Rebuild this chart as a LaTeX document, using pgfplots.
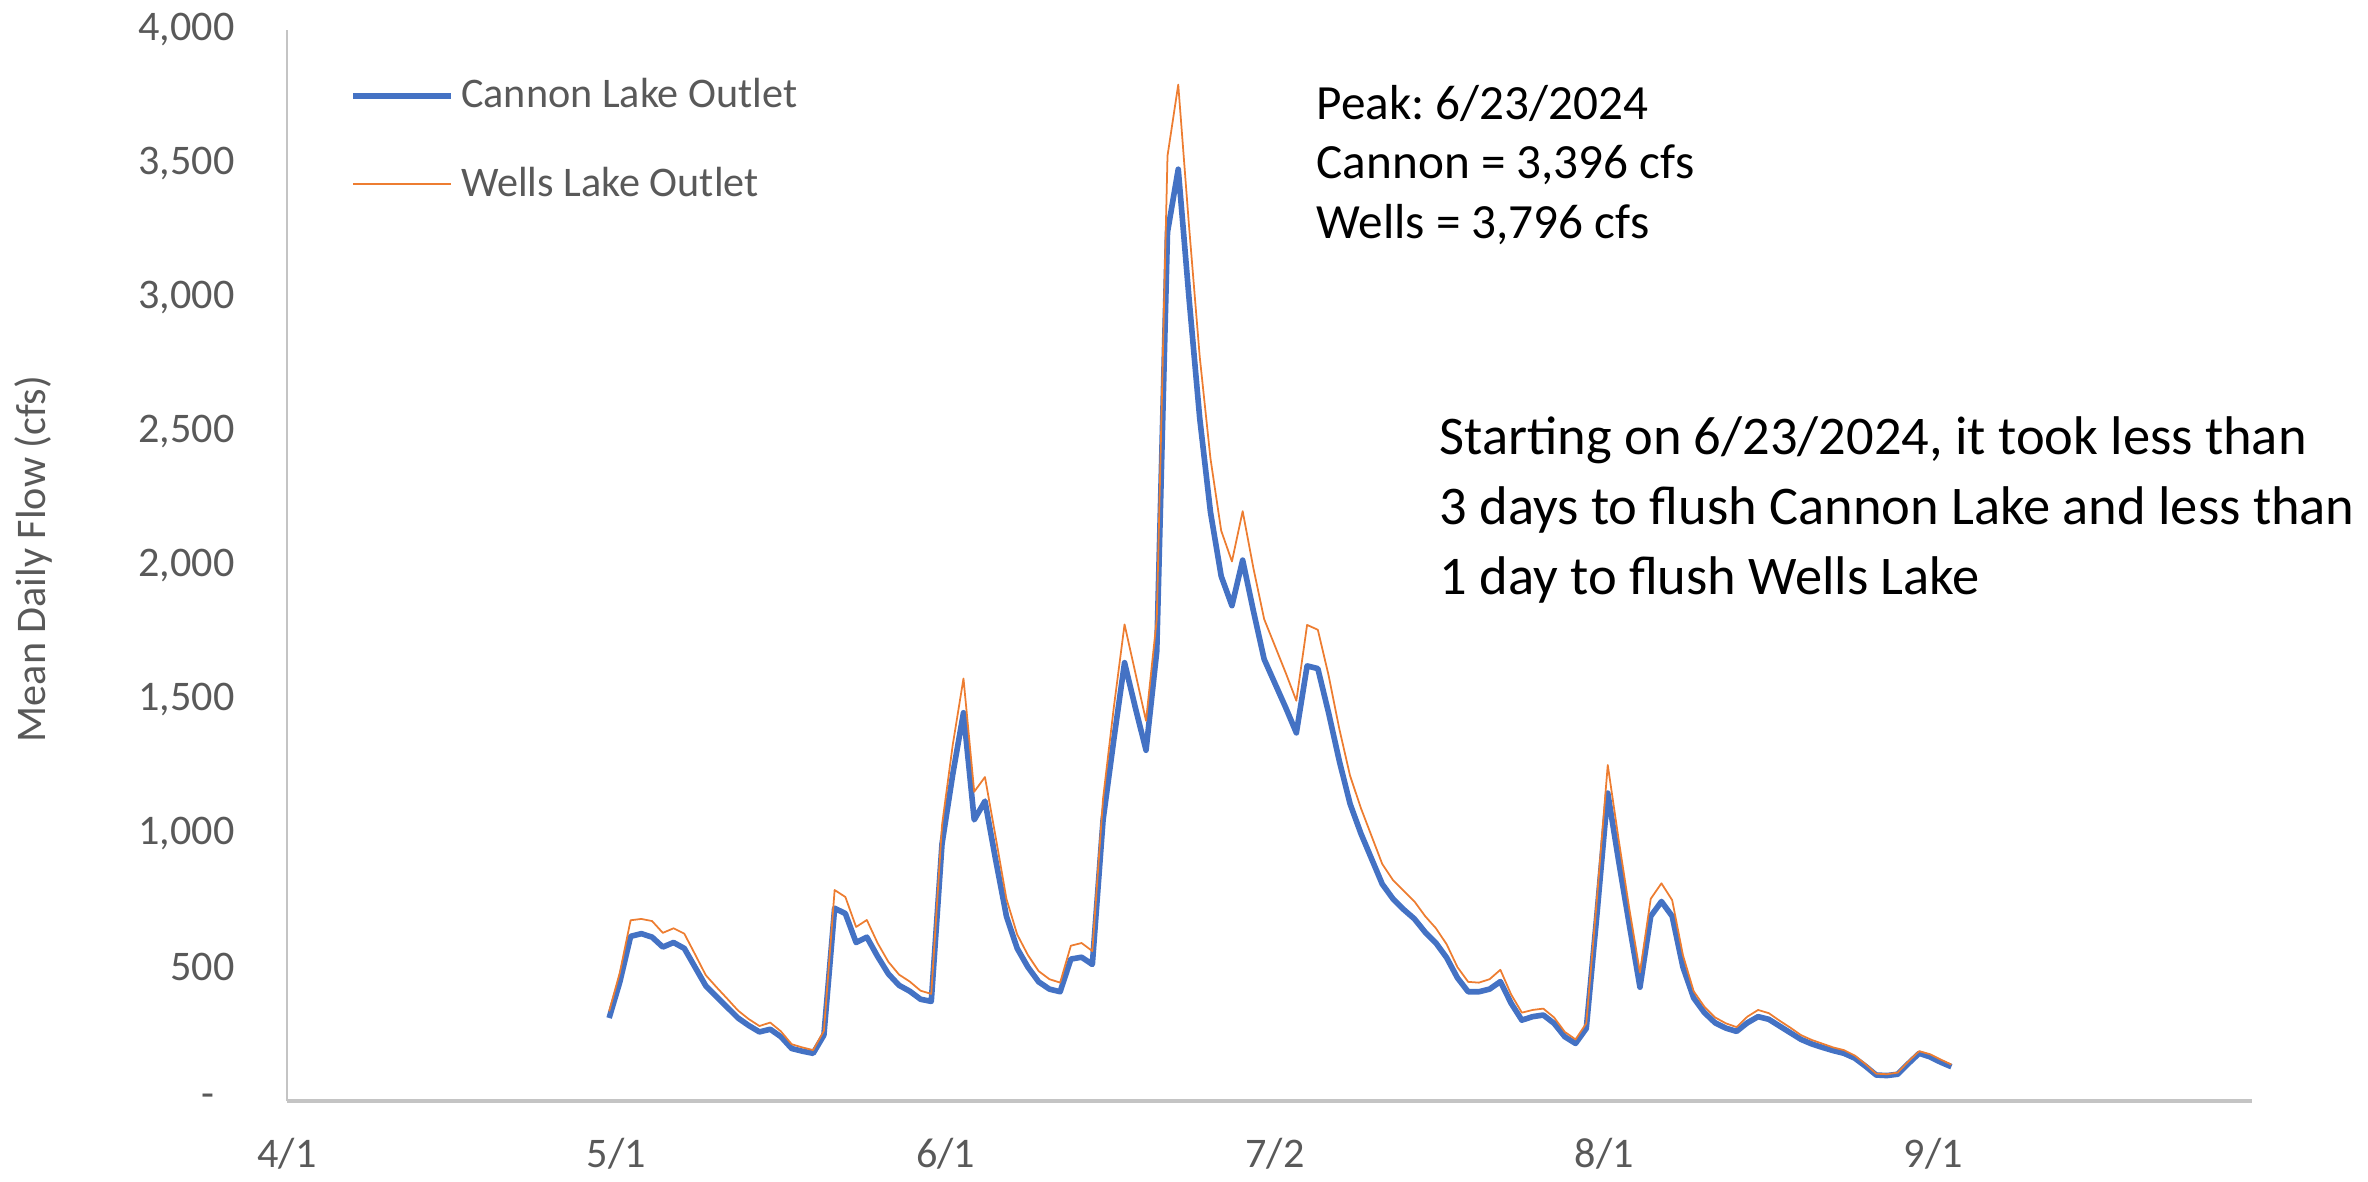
\documentclass[border=0pt]{standalone}
\usepackage{fontspec}
\setmainfont{Carlito}
\usepackage{pgfplots}
\usepackage{pgfplotstable}
\pgfplotsset{compat=1.18}
\frenchspacing
\definecolor{cblue}{HTML}{4472C4}
\definecolor{corange}{HTML}{ED7D31}
\definecolor{tgray}{HTML}{595959}
\definecolor{agray}{HTML}{C4C4C4}
\pgfplotstableread{
d C W
30 310 335
31 445 480
32 615 675
33 625 680
34 612 672
35 575 628
36 592 645
37 570 625
38 500 548
39 430 470
40 390 425
41 350 382
42 310 338
43 282 306
44 258 280
45 268 293
46 240 260
47 196 212
48 186 200
49 178 190
50 246 262
51 720 788
52 700 762
53 592 650
54 612 676
55 540 590
56 475 520
57 432 472
58 410 446
59 380 412
60 372 400
61 960 1030
62 1220 1330
63 1450 1578
64 1050 1155
65 1120 1210
66 900 985
67 690 755
68 570 622
69 500 545
70 445 485
71 418 455
72 408 442
73 530 580
74 537 590
75 510 560
76 1050 1130
77 1350 1470
78 1637 1780
79 1470 1600
80 1310 1420
81 1680 1800
82 3245 3530
83 3480 3796
84 3000 3270
85 2550 2780
86 2200 2400
87 1960 2130
88 1850 2015
89 2020 2203
90 1830 1990
91 1650 1800
92 1560 1700
93 1470 1600
94 1375 1495
95 1625 1778
96 1615 1760
97 1450 1590
98 1270 1390
99 1110 1215
100 1000 1095
101 905 990
102 810 885
103 755 825
104 715 785
105 680 745
106 630 690
107 590 645
108 535 585
109 460 500
110 408 445
111 408 442
112 418 455
113 446 490
114 365 398
115 302 330
116 315 340
117 321 345
118 290 312
119 240 258
120 215 230
121 271 290
122 700 760
123 1150 1255
124 900 980
125 660 720
126 425 480
127 690 755
128 745 813
129 690 750
130 500 545
131 385 410
132 330 352
133 292 312
134 272 290
135 260 276
136 292 315
137 315 340
138 305 328
139 280 300
140 255 274
141 230 246
142 213 228
143 200 214
144 188 200
145 178 190
146 160 170
147 130 138
148 97 102
149 95 100
150 100 106
151 140 148
152 178 186
153 165 175
154 145 155
155 128 136
}\flow

\begin{document}
\begin{tikzpicture}
\path[use as bounding box] (0,0) rectangle (23.68cm,11.81cm);
\begin{axis}[
  at={(2.87cm,0.80cm)}, anchor=south west,
  scale only axis, width=19.65cm, height=10.71cm,
  xmin=0, xmax=183, ymin=0, ymax=4000,
  axis lines*=left,
  x axis line style={draw=agray, line width=1.2pt},
  y axis line style={draw=agray, line width=0.6pt},
  major tick length=0pt,
  xtick={0,30.667,61.333,92,122.667,153.333},
  xticklabels={4/1,5/1,6/1,7/2,8/1,9/1},
  ytick={0,500,1000,1500,2000,2500,3000,3500,4000},
  yticklabels={{-\hspace*{2mm}},500,{1,000},{1,500},{2,000},{2,500},{3,000},{3,500},{4,000}},
  tick label style={font=\fontsize{12}{14}\selectfont, text=tgray},
  yticklabel style={xshift=-4mm},
  xticklabel style={yshift=-2.5mm},
  ylabel={Mean Daily Flow (cfs)},
  every axis y label/.style={at={(axis description cs:-0.129,0.506)}, rotate=90, anchor=center, font=\fontsize{12}{14}\selectfont, text=tgray},
  legend style={at={(axis description cs:0.032,0.962)}, anchor=north west, draw=none, fill=none, font=\fontsize{12}{14}\selectfont, text=tgray, row sep=4mm, inner sep=0pt},
  legend cell align=left,
  legend image code/.code={\draw[#1] (0cm,0cm) -- (0.98cm,0cm);},
]
\addplot[cblue, line width=1.6pt, line join=round] table[x=d,y=C]{\flow};
\addlegendentry{Cannon Lake Outlet}
\addplot[corange, line width=0.5pt, line join=round] table[x=d,y=W]{\flow};
\addlegendentry{Wells Lake Outlet}
\end{axis}
\begin{scope}[every node/.style={anchor=base west, inner sep=0pt, text=black}]
\node[font=\fontsize{14}{17}\selectfont] at (13.16cm,10.61cm) {Peak: 6/23/2024};
\node[font=\fontsize{14}{17}\selectfont] at (13.16cm,10.02cm) {Cannon = 3,396 cfs};
\node[font=\fontsize{14}{17}\selectfont] at (13.16cm,9.42cm) {Wells = 3,796 cfs};
\node[font=\fontsize{15.5}{19}\selectfont] at (14.39cm,7.26cm) {Starting on 6/23/2024, it took less than};
\node[font=\fontsize{15.5}{19}\selectfont] at (14.39cm,6.56cm) {3 days to flush Cannon Lake and less than};
\node[font=\fontsize{15.5}{19}\selectfont] at (14.39cm,5.86cm) {1 day to flush Wells Lake};
\end{scope}
\end{tikzpicture}
\end{document}
